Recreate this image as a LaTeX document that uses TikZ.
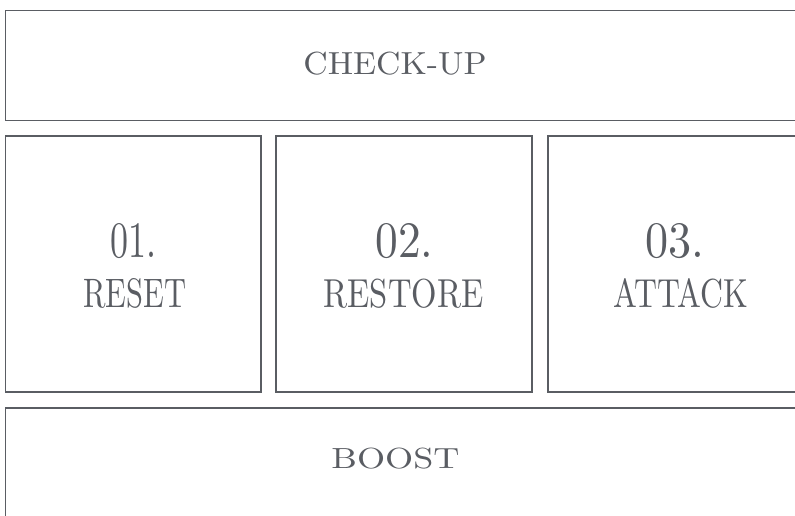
\documentclass[tikz,border=0pt]{standalone}
\usepackage{graphicx}
\definecolor{ink}{HTML}{5A5D63}
\tikzset{
  panel/.style={draw=ink, line width=1.9pt, rectangle, inner sep=0pt, outer sep=0pt, anchor=north west},
  lbl/.style={text=ink, inner sep=0pt, outer sep=0pt, anchor=base}
}
\begin{document}
\begin{tikzpicture}[x=1pt,y=1pt]
\useasboundingbox (0,0) rectangle (795,-516);
\clip (0,0) rectangle (795,-516);
\node[panel, minimum width=810pt, minimum height=110pt] (top) at (5.5,-10.5) {};
\node[panel, minimum width=255.2pt, minimum height=256pt] (c1) at (5.5,-136) {};
\node[panel, minimum width=256.3pt, minimum height=256pt] (c2) at (275.7,-136) {};
\node[panel, minimum width=260pt, minimum height=256pt] (c3) at (547.7,-136) {};
\node[panel, minimum width=810pt, minimum height=130pt] (bot) at (5.5,-408.3) {};
\node[lbl] (tcheck) at (395,-75) {\resizebox{183pt}{22.5pt}{CHECK-UP}};
\node[lbl] (n1) at (134,-257) {\resizebox{46pt}{34pt}{01.}};
\node[lbl] (t1) at (135,-307) {\resizebox{103pt}{29pt}{RESET}};
\node[lbl] (n2) at (404.5,-257) {\resizebox{58pt}{34pt}{02.}};
\node[lbl] (t2) at (403.5,-307) {\resizebox{160pt}{28.5pt}{RESTORE}};
\node[lbl] (n3) at (675,-257) {\resizebox{59pt}{34pt}{03.}};
\node[lbl] (t3) at (681,-307) {\resizebox{135pt}{29pt}{ATTACK}};
\node[lbl] (tboost) at (395.5,-468) {\resizebox{128pt}{20.5pt}{BOOST}};
\end{tikzpicture}
\end{document}
